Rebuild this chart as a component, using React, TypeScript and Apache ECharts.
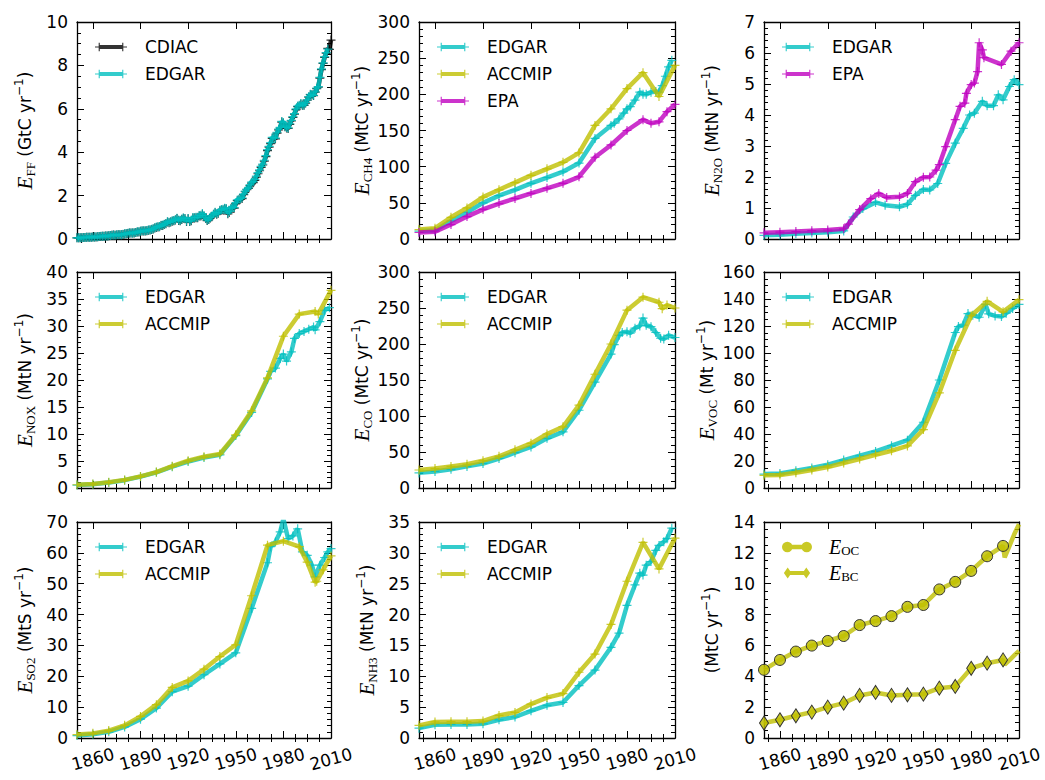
import React, { useEffect, useRef } from 'react';
import * as echarts from 'echarts';

// ---------------- DATA ----------------
const DEC_1850_1960 = [1850, 1860, 1870, 1880, 1890, 1900, 1910, 1920, 1930, 1940, 1950, 1960];
const DEC_1850_2010 = [1850, 1860, 1870, 1880, 1890, 1900, 1910, 1920, 1930, 1940, 1950, 1960, 1970, 1980, 1990, 2000, 2010];

const X_MAJOR = [1860, 1890, 1920, 1950, 1980, 2010];
const X_MINOR = [1852.5, 1867.5, 1875, 1882.5, 1897.5, 1905, 1912.5, 1927.5, 1935, 1942.5, 1957.5, 1965, 1972.5, 1987.5, 1995, 2002.5];

// Fossil fuel (GtC/yr), annual
const cdiacStart = 1850;
const cdiacValues = [
  0.054, 0.054, 0.057, 0.059, 0.069, 0.071, 0.076, 0.077, 0.078, 0.083,
  0.091, 0.095, 0.097, 0.104, 0.112, 0.119, 0.122, 0.130, 0.135, 0.142,
  0.147, 0.156, 0.173, 0.184, 0.174, 0.188, 0.191, 0.194, 0.196, 0.210,
  0.236, 0.243, 0.256, 0.272, 0.275, 0.277, 0.281, 0.295, 0.327, 0.327,
  0.356, 0.372, 0.374, 0.370, 0.383, 0.406, 0.419, 0.440, 0.465, 0.507,
  0.534, 0.552, 0.566, 0.617, 0.624, 0.663, 0.707, 0.784, 0.750, 0.785,
  0.819, 0.836, 0.879, 0.943, 0.850, 0.838, 0.901, 0.955, 0.936, 0.806,
  0.932, 0.803, 0.845, 0.970, 0.963, 0.975, 0.983, 1.062, 1.065, 1.145,
  1.053, 0.940, 0.847, 0.893, 0.973, 1.027, 1.130, 1.209, 1.142, 1.192,
  1.299, 1.334, 1.342, 1.391, 1.383, 1.160, 1.238, 1.392, 1.469, 1.419,
  1.630, 1.768, 1.796, 1.841, 1.865, 2.043, 2.178, 2.270, 2.330, 2.462,
  2.577, 2.594, 2.700, 2.848, 3.008, 3.145, 3.305, 3.411, 3.588, 3.800,
  4.076, 4.231, 4.399, 4.635, 4.644, 4.615, 4.883, 5.029, 5.105, 5.387,
  5.332, 5.168, 5.113, 5.094, 5.280, 5.439, 5.607, 5.752, 5.965, 6.097,
  6.127, 6.217, 6.164, 6.162, 6.266, 6.398, 6.542, 6.651, 6.643, 6.610,
  6.765, 6.927, 6.996, 7.416, 7.807, 8.093, 8.370, 8.566, 8.783, 8.740, 9.167,
];
const edgarFFStart = 1850;
const edgarFFValues = [
  0.056, 0.056, 0.059, 0.061, 0.071, 0.073, 0.078, 0.079, 0.080, 0.085,
  0.093, 0.097, 0.099, 0.106, 0.114, 0.121, 0.124, 0.132, 0.137, 0.144,
  0.150, 0.159, 0.176, 0.187, 0.177, 0.191, 0.194, 0.197, 0.199, 0.214,
  0.240, 0.247, 0.260, 0.276, 0.279, 0.281, 0.285, 0.300, 0.332, 0.332,
  0.362, 0.378, 0.380, 0.376, 0.389, 0.412, 0.426, 0.447, 0.472, 0.515,
  0.55, 0.57, 0.58, 0.63, 0.64, 0.68, 0.72, 0.80, 0.77, 0.80,
  0.84, 0.85, 0.90, 0.96, 0.87, 0.86, 0.92, 0.97, 0.95, 0.83,
  0.95, 0.82, 0.87, 0.99, 0.98, 1.00, 1.00, 1.08, 1.09, 1.17,
  1.08, 0.96, 0.87, 0.91, 0.99, 1.05, 1.15, 1.23, 1.16, 1.21,
  1.32, 1.36, 1.37, 1.42, 1.41, 1.19, 1.27, 1.42, 1.50, 1.45,
  1.67, 1.80, 1.83, 1.87, 1.90, 2.08, 2.21, 2.30, 2.36, 2.50,
  2.62, 2.64, 2.75, 2.90, 3.06, 3.19, 3.35, 3.45, 3.63, 3.84,
  4.12, 4.27, 4.44, 4.68, 4.69, 4.65, 4.92, 5.06, 5.14, 5.42,
  5.37, 5.20, 5.14, 5.12, 5.31, 5.47, 5.64, 5.78, 6.00, 6.13,
  6.16, 6.24, 6.18, 6.18, 6.28, 6.41, 6.56, 6.67, 6.66, 6.62,
  6.78, 6.95, 7.02, 7.45, 7.84, 8.12, 8.40, 8.59, 8.75,
];

// CH4 (MtC/yr)
const ch4EdgarYears = [...DEC_1850_1960, 1970, 1972, 1975, 1978, 1980, 1982, 1985, 1988, 1990, 1992, 1995, 1998, 2000, 2002, 2004, 2006, 2008];
const ch4EdgarValues = [11, 12, 25, 37, 50, 60, 68, 77, 85, 93, 105, 139, 157, 160, 166, 174, 180, 183, 192, 203, 200, 200, 203, 204, 203, 212, 225, 238, 247];
const ch4AccmipYears = DEC_1850_2010;
const ch4AccmipValues = [13, 15, 30, 43, 58, 68, 78, 88, 97, 106, 119, 157, 180, 208, 230, 197, 240];
const ch4EpaYears = [1850, 1860, 1870, 1880, 1890, 1900, 1910, 1920, 1930, 1940, 1950, 1960, 1970, 1980, 1990, 1995, 2000, 2005, 2010];
const ch4EpaValues = [9, 10, 20, 31, 41, 49, 56, 63, 70, 77, 86, 113, 130, 150, 165, 160, 162, 176, 186];

// N2O (MtN/yr)
const n2oEdgarYears = [1850, 1860, 1870, 1880, 1890, 1900, 1906, 1912, 1920, 1926, 1935, 1940, 1945, 1950, 1954, 1959, 1964, 1970, 1975, 1979, 1982, 1987, 1990, 1994, 1997, 2000, 2004, 2007, 2010];
const n2oEdgarValues = [0.12, 0.14, 0.17, 0.19, 0.22, 0.26, 0.71, 0.98, 1.18, 1.09, 1.04, 1.12, 1.41, 1.60, 1.58, 1.79, 2.44, 3.09, 3.57, 4.00, 4.06, 4.44, 4.30, 4.30, 4.65, 4.49, 4.92, 5.14, 4.98];
const n2oEpaYears = [1850, 1860, 1870, 1880, 1890, 1900, 1903, 1910, 1917, 1922, 1927, 1935, 1940, 1945, 1950, 1954, 1958, 1960, 1964, 1970, 1973, 1976, 1977, 1980, 1982, 1984, 1985, 1987, 1988, 1999, 2005, 2010];
const n2oEpaValues = [0.20, 0.22, 0.24, 0.27, 0.29, 0.33, 0.48, 0.95, 1.30, 1.47, 1.34, 1.36, 1.47, 1.85, 1.99, 2.00, 2.22, 2.40, 2.98, 3.85, 4.28, 4.38, 4.70, 4.98, 5.03, 5.40, 6.33, 6.10, 5.85, 5.63, 6.06, 6.33];

// NOx (MtN/yr)
const noxEdgarYears = [...DEC_1850_1960, 1970, 1972, 1975, 1978, 1980, 1982, 1985, 1987, 1990, 1993, 1996, 1999, 2000, 2003, 2006, 2009];
const noxEdgarValues = [0.55, 0.7, 1.0, 1.45, 2.1, 2.9, 3.95, 4.9, 5.65, 6.15, 9.7, 14.0, 20.2, 21.6, 22.2, 24.0, 24.8, 23.5, 25.2, 27.7, 28.6, 29.0, 29.4, 29.8, 29.3, 30.8, 32.9, 33.4];
const noxAccmipYears = [1850, 1860, 1870, 1880, 1890, 1900, 1910, 1920, 1930, 1940, 1950, 1960, 1970, 1980, 1990, 2000, 2002, 2010];
const noxAccmipValues = [0.6, 0.75, 1.05, 1.5, 2.15, 2.95, 4.05, 5.05, 5.8, 6.3, 9.85, 14.3, 20.4, 28.1, 32.2, 32.7, 32.2, 36.6];

// CO (MtC/yr)
const coEdgarYears = [...DEC_1850_1960, 1970, 1972, 1975, 1977, 1980, 1982, 1985, 1988, 1990, 1992, 1995, 1998, 2001, 2003, 2006, 2010];
const coEdgarValues = [21, 23, 26, 30, 34, 41, 49, 57, 69, 78, 108, 147, 186, 199, 212, 216, 217, 215, 222, 225, 236, 226, 224, 216, 208, 207, 212, 209];
const coAccmipYears = [1850, 1860, 1870, 1880, 1890, 1900, 1910, 1920, 1930, 1940, 1950, 1960, 1970, 1980, 1990, 2000, 2002, 2005, 2010];
const coAccmipValues = [25, 27, 30, 33, 38, 44, 53, 62, 75, 85, 115, 158, 200, 247, 265, 258, 249, 254, 250];

// VOC (Mt/yr)
const vocEdgarYears = [...DEC_1850_1960, 1970, 1972, 1975, 1978, 1981, 1985, 1989, 1991, 1995, 1999, 2002, 2006, 2010];
const vocEdgarValues = [10.3, 10.8, 12.8, 14.8, 17.2, 20.7, 23.9, 27.1, 31.3, 35.4, 48.7, 80, 115.2, 119.6, 120.6, 129.2, 128, 126.5, 136, 129, 127.5, 127, 129.5, 133, 136];
const vocAccmipYears = DEC_1850_2010;
const vocAccmipValues = [9.4, 9.6, 11.3, 13.3, 15.5, 18.5, 21.5, 24.6, 27.6, 31.2, 43.3, 70.4, 102, 127.6, 138.3, 130.5, 139.5];

// SO2 (MtS/yr)
const so2EdgarYears = [...DEC_1850_1960, 1970, 1972, 1975, 1978, 1980, 1983, 1986, 1989, 1992, 1995, 1998, 2000, 2003, 2006, 2008, 2010];
const so2EdgarValues = [0.8, 1.2, 2.0, 3.6, 6.1, 9.7, 15, 16.8, 20.5, 24, 27.6, 42, 56.8, 62, 63.5, 66.8, 71, 64.6, 65.5, 67.8, 60.3, 59.2, 56, 52.2, 56, 58.5, 60.3, 61.4];
const so2AccmipYears = [1850, 1860, 1870, 1880, 1890, 1900, 1910, 1920, 1930, 1940, 1950, 1960, 1970, 1980, 1990, 1995, 2000, 2001, 2005, 2010];
const so2AccmipValues = [1.1, 1.5, 2.4, 4.1, 7.0, 10.8, 16.4, 18.5, 22.3, 26.4, 30.2, 46.1, 62.5, 63.8, 62.0, 57.0, 50.5, 50.8, 54.5, 59.0];

// NH3 (MtN/yr)
const nh3EdgarYears = [...DEC_1850_1960, 1970, 1975, 1980, 1985, 1988, 1990, 1992, 1995, 1998, 2000, 2003, 2005, 2008];
const nh3EdgarValues = [1.6, 2.15, 2.2, 2.2, 2.3, 2.95, 3.4, 4.4, 5.3, 5.75, 8.5, 11.0, 14.7, 17.0, 21.5, 24.8, 26.7, 26.4, 28.0, 28.6, 30.4, 31.2, 31.8, 32.3, 34.0];
const nh3AccmipYears = DEC_1850_2010;
const nh3AccmipValues = [2.05, 2.6, 2.65, 2.65, 2.75, 3.65, 4.15, 5.5, 6.55, 7.2, 10.65, 13.6, 18.4, 25.4, 31.7, 27.4, 32.4];

// OC / BC (MtC/yr)
const carbonYears = [1850, 1860, 1870, 1880, 1890, 1900, 1910, 1920, 1930, 1940, 1950, 1960, 1970, 1980, 1990, 2000, 2001, 2003, 2005, 2007, 2010];
const ocValues = [4.42, 5.06, 5.6, 5.99, 6.29, 6.61, 7.32, 7.58, 7.9, 8.5, 8.62, 9.63, 10.12, 10.83, 11.78, 12.45, 11.7, 12.2, 12.7, 13.2, 13.85];
const bcValues = [0.97, 1.18, 1.44, 1.68, 2.0, 2.26, 2.76, 2.95, 2.76, 2.8, 2.84, 3.23, 3.34, 4.52, 4.85, 5.06, 4.75, 4.95, 5.15, 5.35, 5.65];
const carbonLastMarkedYear = 2000;

// ---------------- STYLE ----------------
const FONT = 'DejaVu Sans';
const SERIF = 'Liberation Serif';
const BLACK = 'rgba(0,0,0,0.8)';
const CYAN = 'rgba(0,191,191,0.8)';
const YELLOW = 'rgba(191,191,0,0.8)';
const MAGENTA = 'rgba(191,0,191,0.8)';

const PLUS = 'path://M3.9,0H5.1V3.9H9V5.1H5.1V9H3.9V5.1H0V3.9H3.9Z';
const LEG_PLUS = 'path://M0,3.9H9V5.1H0Z M3.9,0H5.1V9H3.9Z M25,3.9H34V5.1H25Z M28.9,0H30.1V9H28.9Z M4.5,2.25H29.5V6.75H4.5Z';
const LEG_CIRCLE = 'path://M0,5.5A5.5,5.5 0 1,1 11,5.5A5.5,5.5 0 1,1 0,5.5Z M20,5.5A5.5,5.5 0 1,1 31,5.5A5.5,5.5 0 1,1 20,5.5Z M5.5,3.25H25.5V7.75H5.5Z';
const LEG_DIAMOND = 'path://M4.5,0L9,6.5L4.5,13L0,6.5Z M26.5,0L31,6.5L26.5,13L22,6.5Z M4.5,4.25H26.5V8.75H4.5Z';

const COL_LEFT = [77, 419, 764];
const COL_W = [254, 256, 255];
const ROW_TOP = [22, 272, 522];
const ROW_H = [217, 216, 216];

type Line = {
  name: string; color: string; years: number[]; values: number[];
  kind?: 'plus' | 'circle' | 'diamond'; lastMarked?: number; legendIcon: string;
};
type Panel = { title: string; yMax: number; yStep: number; yMinor: number; lines: Line[]; legendRich?: boolean };

const annual = (start: number, vals: number[]) => vals.map((_, i) => start + i);

const panels: Panel[] = [
  {
    title: '{e|E}{s|FF} (GtC yr{p|−1})', yMax: 10, yStep: 2, yMinor: 4,
    lines: [
      { name: 'CDIAC', color: BLACK, years: annual(cdiacStart, cdiacValues), values: cdiacValues, legendIcon: LEG_PLUS },
      { name: 'EDGAR', color: CYAN, years: annual(edgarFFStart, edgarFFValues), values: edgarFFValues, legendIcon: LEG_PLUS },
    ],
  },
  {
    title: '{e|E}{s|CH4} (MtC yr{p|−1})', yMax: 300, yStep: 50, yMinor: 5,
    lines: [
      { name: 'EDGAR', color: CYAN, years: ch4EdgarYears, values: ch4EdgarValues, legendIcon: LEG_PLUS },
      { name: 'ACCMIP', color: YELLOW, years: ch4AccmipYears, values: ch4AccmipValues, legendIcon: LEG_PLUS },
      { name: 'EPA', color: MAGENTA, years: ch4EpaYears, values: ch4EpaValues, legendIcon: LEG_PLUS },
    ],
  },
  {
    title: '{e|E}{s|N2O} (MtN yr{p|−1})', yMax: 7, yStep: 1, yMinor: 5,
    lines: [
      { name: 'EDGAR', color: CYAN, years: n2oEdgarYears, values: n2oEdgarValues, legendIcon: LEG_PLUS },
      { name: 'EPA', color: MAGENTA, years: n2oEpaYears, values: n2oEpaValues, legendIcon: LEG_PLUS },
    ],
  },
  {
    title: '{e|E}{s|NOX} (MtN yr{p|−1})', yMax: 40, yStep: 5, yMinor: 5,
    lines: [
      { name: 'EDGAR', color: CYAN, years: noxEdgarYears, values: noxEdgarValues, legendIcon: LEG_PLUS },
      { name: 'ACCMIP', color: YELLOW, years: noxAccmipYears, values: noxAccmipValues, legendIcon: LEG_PLUS },
    ],
  },
  {
    title: '{e|E}{s|CO} (MtC yr{p|−1})', yMax: 300, yStep: 50, yMinor: 5,
    lines: [
      { name: 'EDGAR', color: CYAN, years: coEdgarYears, values: coEdgarValues, legendIcon: LEG_PLUS },
      { name: 'ACCMIP', color: YELLOW, years: coAccmipYears, values: coAccmipValues, legendIcon: LEG_PLUS },
    ],
  },
  {
    title: '{e|E}{s|VOC} (Mt yr{p|−1})', yMax: 160, yStep: 20, yMinor: 4,
    lines: [
      { name: 'EDGAR', color: CYAN, years: vocEdgarYears, values: vocEdgarValues, legendIcon: LEG_PLUS },
      { name: 'ACCMIP', color: YELLOW, years: vocAccmipYears, values: vocAccmipValues, legendIcon: LEG_PLUS },
    ],
  },
  {
    title: '{e|E}{s|SO2} (MtS yr{p|−1})', yMax: 70, yStep: 10, yMinor: 5,
    lines: [
      { name: 'EDGAR', color: CYAN, years: so2EdgarYears, values: so2EdgarValues, legendIcon: LEG_PLUS },
      { name: 'ACCMIP', color: YELLOW, years: so2AccmipYears, values: so2AccmipValues, legendIcon: LEG_PLUS },
    ],
  },
  {
    title: '{e|E}{s|NH3} (MtN yr{p|−1})', yMax: 35, yStep: 5, yMinor: 5,
    lines: [
      { name: 'EDGAR', color: CYAN, years: nh3EdgarYears, values: nh3EdgarValues, legendIcon: LEG_PLUS },
      { name: 'ACCMIP', color: YELLOW, years: nh3AccmipYears, values: nh3AccmipValues, legendIcon: LEG_PLUS },
    ],
  },
  {
    title: '(MtC yr{p|−1})', yMax: 14, yStep: 2, yMinor: 4, legendRich: true,
    lines: [
      { name: 'E_OC', color: YELLOW, years: carbonYears, values: ocValues, kind: 'circle', lastMarked: carbonLastMarkedYear, legendIcon: LEG_CIRCLE },
      { name: 'E_BC', color: YELLOW, years: carbonYears, values: bcValues, kind: 'diamond', lastMarked: carbonLastMarkedYear, legendIcon: LEG_DIAMOND },
    ],
  },
];

const nameRich = {
  e: { fontFamily: SERIF, fontStyle: 'italic', fontSize: 21, lineHeight: 24, color: '#000' },
  s: { fontFamily: SERIF, fontSize: 13, lineHeight: 13, verticalAlign: 'bottom', color: '#000' },
  p: { fontFamily: FONT, fontSize: 12, lineHeight: 13, verticalAlign: 'top', color: '#000' },
};

function buildOption() {
  const grid: any[] = [];
  const xAxis: any[] = [];
  const yAxis: any[] = [];
  const series: any[] = [];
  const legend: any[] = [];
  const axisLineStyle = { color: '#000', width: 1.3 };
  const tickStyle = { color: '#000', width: 1 };

  panels.forEach((p, g) => {
    const row = Math.floor(g / 3);
    const col = g % 3;
    grid.push({
      left: COL_LEFT[col], top: ROW_TOP[row], width: COL_W[col], height: ROW_H[row],
      containLabel: false, outerBoundsMode: 'none',
    });
    const baseX = { type: 'value', gridIndex: g, min: 1850, max: 2010, splitLine: { show: false }, axisPointer: { show: false } };
    for (const pos of ['bottom', 'top']) {
      xAxis.push({
        ...baseX, position: pos,
        axisLine: { show: true, onZero: false, lineStyle: axisLineStyle },
        axisTick: { show: true, inside: true, length: 7, customValues: X_MAJOR, lineStyle: tickStyle },
        axisLabel: {
          show: pos === 'bottom' && row === 2, customValues: X_MAJOR, rotate: 15, align: 'center', verticalAlign: 'middle',
          margin: 21, fontSize: 17, fontFamily: FONT, color: '#000', showMinLabel: true, showMaxLabel: true,
          interval: 0, hideOverlap: false, formatter: (v: number) => String(v),
        },
      });
      xAxis.push({
        ...baseX, position: pos,
        axisLine: { show: false },
        axisTick: { show: true, inside: true, length: 4, customValues: X_MINOR, lineStyle: tickStyle },
        axisLabel: { show: false },
      });
    }
    for (const pos of ['left', 'right']) {
      yAxis.push({
        type: 'value', gridIndex: g, position: pos, min: 0, max: p.yMax, interval: p.yStep,
        axisLine: { show: true, onZero: false, lineStyle: axisLineStyle },
        axisTick: { show: true, inside: true, length: 7, lineStyle: tickStyle },
        minorTick: { show: true, splitNumber: p.yMinor, length: 4, lineStyle: tickStyle },
        splitLine: { show: false }, minorSplitLine: { show: false },
        axisPointer: { show: false },
        axisLabel: {
          show: pos === 'left', margin: 9, fontSize: 17, fontFamily: FONT, color: '#000',
          showMinLabel: true, showMaxLabel: true, hideOverlap: false, formatter: (v: number) => String(v),
        },
        ...(pos === 'left'
          ? {
              name: p.title, nameLocation: 'middle', nameGap: 40, nameRotate: 90,
              nameTextStyle: { fontFamily: FONT, fontSize: 17, color: '#000', lineHeight: 24, rich: nameRich },
            }
          : {}),
      });
    }

    p.lines.forEach((l, k) => {
      let symbol: string = PLUS;
      let symbolSize: any = 9;
      let itemStyle: any = { color: l.color };
      if (l.kind === 'circle') {
        symbol = 'circle'; symbolSize = 11;
        itemStyle = { color: 'rgba(191,191,0,0.85)', borderColor: '#333', borderWidth: 1 };
      } else if (l.kind === 'diamond') {
        symbol = 'diamond'; symbolSize = [9, 14];
        itemStyle = { color: 'rgba(191,191,0,0.85)', borderColor: '#333', borderWidth: 1 };
      }
      series.push({
        type: 'line', name: l.name, xAxisIndex: 4 * g, yAxisIndex: 2 * g,
        data: l.years.map((y, i) =>
          l.lastMarked !== undefined && y > l.lastMarked
            ? { value: [y, l.values[i]], symbol: 'none' }
            : [y, l.values[i]]
        ),
        symbol, symbolSize, showSymbol: true,
        lineStyle: { width: 4.5, color: l.color },
        itemStyle,
        emphasis: { disabled: true },
        silent: true,
        z: 2 + k,
      });
    });

    legend.push({
      orient: 'vertical', left: COL_LEFT[col] + 18, top: ROW_TOP[row] + 15,
      itemWidth: p.legendRich ? 30 : 32, itemHeight: p.legendRich ? 11 : 9, itemGap: p.legendRich ? 6 : 7, padding: 0,
      selectedMode: false,
      data: p.lines.map((l) => ({ name: l.name, icon: l.legendIcon })),
      itemStyle: { borderWidth: 0 },
      formatter: p.legendRich ? (n: string) => `{e|E}{s|${n.split('_')[1]}}` : undefined,
      textStyle: {
        fontFamily: FONT, fontSize: 17, color: '#000', lineHeight: 20, padding: [0, 0, 0, p.legendRich ? 12 : 13],
        rich: {
          e: { fontFamily: SERIF, fontStyle: 'italic', fontSize: 20, lineHeight: 20, color: '#000' },
          s: { fontFamily: SERIF, fontSize: 13, lineHeight: 12, verticalAlign: 'bottom', color: '#000' },
        },
      },
    });
  });

  return {
    animation: false,
    backgroundColor: '#fff',
    textStyle: { fontFamily: FONT },
    grid, xAxis, yAxis, series, legend,
  };
}

export default function App() {
  const ref = useRef<HTMLDivElement>(null);
  useEffect(() => {
    if (!ref.current) return;
    const chart = echarts.init(ref.current, null, { renderer: 'svg' });
    chart.setOption(buildOption() as any);
    return () => chart.dispose();
  }, []);
  return (
    <div
      ref={ref}
      style={{ position: 'absolute', left: 0, top: 0, width: 1045, height: 780, background: '#fff' }}
    />
  );
}
